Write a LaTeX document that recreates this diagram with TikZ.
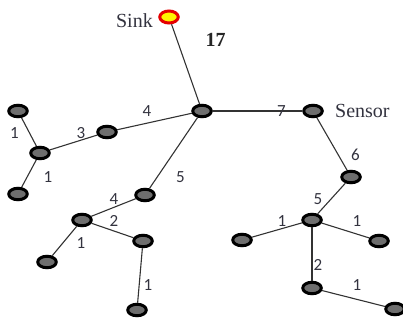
\documentclass[tikz,border=0pt]{standalone}
\usepackage{fontspec}
\setmainfont{Liberation Serif}
\newfontfamily\numfont{Carlito}
\usetikzlibrary{shapes.geometric}
\definecolor{nodegray}{HTML}{6E6E6E}
\definecolor{edgegray}{HTML}{333333}
\definecolor{txt}{HTML}{33333F}
\tikzset{
  sensor/.style={ellipse, draw=black, fill=nodegray, line width=3pt, inner sep=0pt, minimum width=18.5pt, minimum height=11.5pt},
  sinknode/.style={ellipse, draw=red!90!black, fill=yellow, line width=3pt, inner sep=0pt, minimum width=18.5pt, minimum height=12pt},
  link/.style={draw=edgegray, line width=1.1pt},
  num/.style={inner sep=0pt, text=txt, font=\numfont\fontsize{17}{17}\selectfont},
  word/.style={inner sep=0pt, text=txt, font=\fontsize{20}{20}\selectfont}
}
\begin{document}
\begin{tikzpicture}[x=1pt,y=-1pt]
\useasboundingbox (0,0) rectangle (403,324);
% nodes
\node[sinknode] (S) at (169,17) {};
\node[sensor] (A) at (202,111) {};
\node[sensor] (B) at (313,111) {};
\node[sensor] (C) at (107,132) {};
\node[sensor] (D) at (40,153) {};
\node[sensor] (E) at (18,111) {};
\node[sensor] (F) at (18,194) {};
\node[sensor] (G) at (145,195) {};
\node[sensor] (H) at (82,220) {};
\node[sensor] (I) at (47,262) {};
\node[sensor] (J) at (143,241) {};
\node[sensor] (K) at (137,310) {};
\node[sensor] (L) at (351,177) {};
\node[sensor] (M) at (312,220) {};
\node[sensor] (N) at (242,240) {};
\node[sensor] (O) at (379,241) {};
\node[sensor] (P) at (312,288) {};
\node[sensor] (Q) at (395,309) {};
% edges
\draw[link] (S) -- (A);
\draw[link] (A) -- (B);
\draw[link] (A) -- (C);
\draw[link] (C) -- (D);
\draw[link] (D) -- (E);
\draw[link] (D) -- (F);
\draw[link] (A) -- (G);
\draw[link] (G) -- (H);
\draw[link] (H) -- (I);
\draw[link] (H) -- (J);
\draw[link] (J) -- (K);
\draw[link] (B) -- (L);
\draw[link] (L) -- (M);
\draw[link] (M) -- (N);
\draw[link] (M) -- (O);
\draw[link] (M) -- (P);
\draw[link] (P) -- (Q);
% words
\node[word, anchor=base east] (tsink) at (153,27) {Sink};
\node[word, anchor=base west] (tsensor) at (335,117) {Sensor};
\node[inner sep=0pt, text=black!85, font=\fontsize{20}{20}\selectfont\bfseries] (t17) at (215.5,40) {17};
% weights
\node[num] (w1) at (147,111.5) {4};
\node[num] (w2) at (281.5,111) {7};
\node[num] (w3) at (81,133) {3};
\node[num] (w4) at (14.5,133) {1};
\node[num] (w5) at (355.5,155) {6};
\node[num] (w6) at (48,177) {1};
\node[num] (w7) at (180.5,177) {5};
\node[num] (w8) at (114,199.5) {4};
\node[num] (w9) at (114,221) {2};
\node[num] (w10) at (81,243) {1};
\node[num] (w11) at (148,285.5) {1};
\node[num] (w12) at (318,199.5) {5};
\node[num] (w13) at (282,221) {1};
\node[num] (w14) at (357,221) {1};
\node[num] (w15) at (318,264.5) {2};
\node[num] (w16) at (357,285.5) {1};
\end{tikzpicture}
\end{document}
